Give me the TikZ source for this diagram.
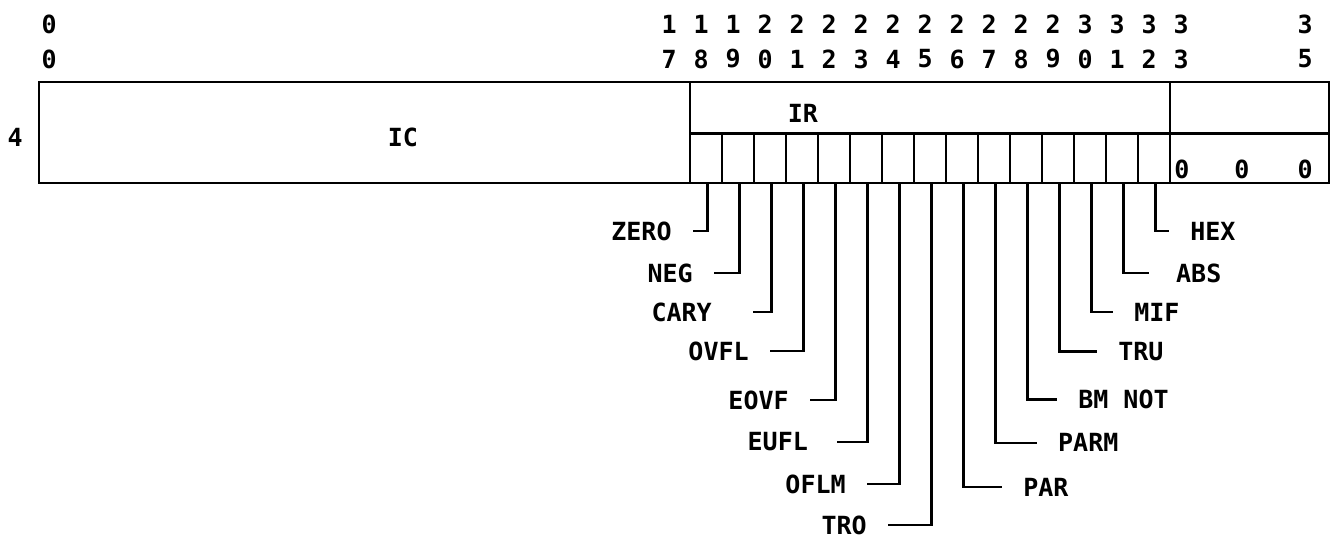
\documentclass[tikz,border=0pt]{standalone}
\usepackage{fontspec}
\setmonofont{DejaVu Sans Mono}
\usetikzlibrary{calc}

\begin{document}
\begin{tikzpicture}[x=16pt,y=16pt,line width=1.3pt,
    lbl/.style={font=\ttfamily\bfseries\fontsize{12.5}{14}\selectfont,inner sep=0pt},
    flag/.style={lbl,inner xsep=10pt}]
\useasboundingbox (-21.5625,-11.125) rectangle (20.0625,5.71875);

% Register outline
\draw (-20.34,0) rectangle (19.97,3.16);
\draw (0,0) -- (0,3.16);
\draw (15,0) -- (15,3.16);
\draw (0,1.55) -- (19.97,1.55);

% Bit cells of IR
\foreach \i in {1,...,14}
    \draw (\i,0) -- (\i,1.55);

% Field labels
\node[lbl] (four) at (-21.09,1.41) {4};
\node[lbl] (ic) at (-8.97,1.41) {IC};
\node[lbl] (ir) at (3.53,2.19) {IR};
\foreach \x [count=\k] in {15.375,17.25,19.22}
    \node[lbl] (pad\k) at (\x,0.41) {0};

% Bit numbers
\node[lbl] (hi0) at (-20.03,4.97) {0};
\node[lbl] (lo0) at (-20.03,3.875) {0};
\foreach \n in {17,...,33} {
    \pgfmathtruncatemacro{\hi}{int(\n/10)}
    \pgfmathtruncatemacro{\lo}{mod(\n,10)}
    \node[lbl] (hi\n) at (\n-17.65,4.97) {\hi};
    \node[lbl] (lo\n) at (\n-17.65,3.875) {\lo};
}
\node[lbl] (hi35) at (19.22,4.97) {3};
\node[lbl] (lo35) at (19.22,3.875) {5};

% Leader feet under each bit
\foreach \i in {0,...,14}
    \coordinate (b\i) at (\i+0.55,0);

% Flag names, left side
\node[flag,anchor=east] (zero) at (0.09,-1.5) {ZERO};
\node[flag,anchor=east] (neg) at (0.75,-2.81) {NEG};
\node[flag,anchor=east,inner xsep=20pt] (cary) at (1.97,-4.03) {CARY};
\node[flag,anchor=east] (ovfl) at (2.5,-5.25) {OVFL};
\node[flag,anchor=east] (eovf) at (3.75,-6.78) {EOVF};
\node[flag,anchor=east,inner xsep=14pt] (eufl) at (4.6,-8.09) {EUFL};
\node[flag,anchor=east] (oflm) at (5.53,-9.41) {OFLM};
\node[flag,anchor=east] (tro) at (6.19,-10.69) {TRO};

% Flag names, right side
\node[flag,anchor=west] (par) at (9.75,-9.5) {PAR};
\node[flag,anchor=west] (parm) at (10.84,-8.12) {PARM};
\node[flag,anchor=west] (bmnot) at (11.47,-6.76) {BM NOT};
\node[flag,anchor=west] (tru) at (12.72,-5.27) {TRU};
\node[flag,anchor=west] (mif) at (13.22,-4.03) {MIF};
\node[flag,anchor=west,inner xsep=13pt] (abs) at (14.34,-2.81) {ABS};
\node[flag,anchor=west] (hex) at (14.97,-1.5) {HEX};

% Leaders
\foreach \b/\f in {0/zero,1/neg,2/cary,3/ovfl,4/eovf,5/eufl,6/oflm,7/tro,
                   8/par,9/parm,10/bmnot,11/tru,12/mif,13/abs,14/hex}
    \draw (b\b) |- (\f);
\end{tikzpicture}
\end{document}
